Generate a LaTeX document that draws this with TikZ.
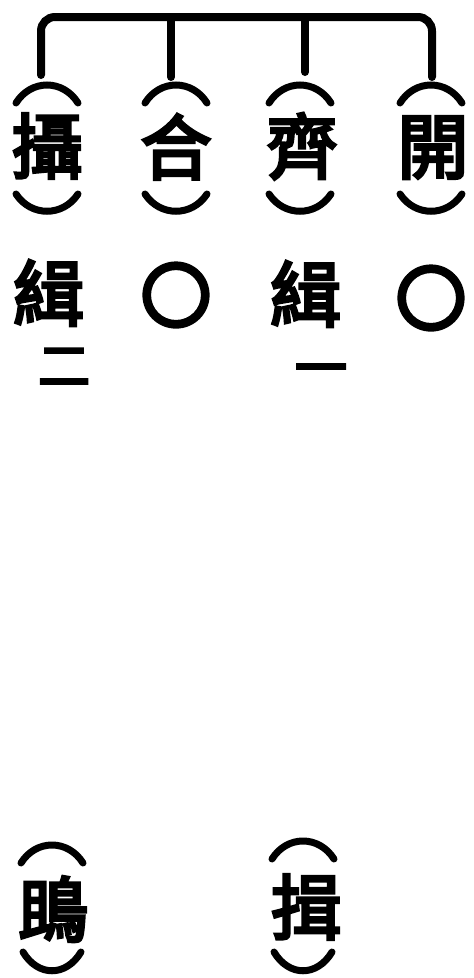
\documentclass[tikz,border=0pt]{standalone}
\usepackage{fontspec}
\newfontfamily\cjk{Noto Sans CJK TC}[BoldFont=*, BoldFeatures={FakeBold=4.5}]
\begin{document}
\begin{tikzpicture}[x=1pt,y=-1pt,
  bracket/.style={line width=8pt, line cap=round, rounded corners=14pt},
  paren/.style={line width=7pt, line cap=round},
  big/.style={inner sep=0pt, text height=62.5pt, text depth=8.5pt, font=\cjk\bfseries\fontsize{71}{71}\selectfont},
  small/.style={inner sep=0pt, text height=45.8pt, text depth=6.2pt, font=\cjk\bfseries\fontsize{52}{52}\selectfont}]
\useasboundingbox (0,0) rectangle (474,978);
% parent point of the bracket
\coordinate (top) at (240,17);
\coordinate (leg1) at (41,75);
\coordinate (leg2) at (171,77);
\coordinate (leg3) at (305,72);
\coordinate (leg4) at (432,77);
\draw[bracket] (leg1) |- (top) -| (leg4);
\draw[line width=8pt, line cap=round] (leg2) -- (leg2 |- top);
\draw[line width=8pt, line cap=round] (leg3) -- (leg3 |- top);
% first row characters
\node[big] (c1) at (47,146) {攝};
\node[big] (c2) at (176,147) {合};
\node[big] (c3) at (302,146) {齊};
\node[big] (c4) at (433,146) {開};
% parentheses (vertical forms)
\foreach \cx/\n in {47/1,176/2,300/3,431/4}{
  \draw[paren] (\cx-31,103) .. controls (\cx-16,79) and (\cx+16,79) .. (\cx+31,103);
  \draw[paren] (\cx-31,194) .. controls (\cx-16,217) and (\cx+16,217) .. (\cx+31,194);
}
% second row
\node[big] (d1) at (49,293) {緝};
\node[big] (d2) at (176,295) {〇};
\node[big] (d3) at (306,294) {緝};
\node[big] (d4) at (431,298) {〇};
\node[small] (e1) at (64,365) {二};
\node[small] (e3) at (321,367) {一};
% bottom row
\node[big] (f1) at (53,909) {鴡};
\node[big] (f3) at (306,907) {揖};
\foreach \cx/\a in {52/0,303/-4}{
  \draw[paren] (\cx-31,863+\a) .. controls (\cx-16,839+\a) and (\cx+16,839+\a) .. (\cx+31,863+\a);
  \draw[paren] (\cx-29,952) .. controls (\cx-14,977) and (\cx+14,977) .. (\cx+29,952);
}
\end{tikzpicture}
\end{document}
